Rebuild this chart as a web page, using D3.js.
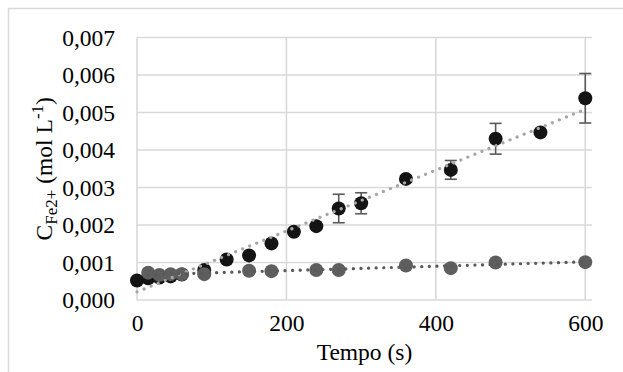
<!DOCTYPE html>
<html>
<head>
<meta charset="utf-8">
<script src="https://cdn.jsdelivr.net/npm/d3@7"></script>
</head>
<body style="margin:0; background:#fff">
<svg id="chart" width="623" height="372"></svg>
<script>
const WIDTH = 623;
const HEIGHT = 372;

// series 1 (black) : time (s), concentration (mol/L), error
const timeA = [0, 15, 30, 45, 60, 90, 120, 150, 180, 210, 240, 270, 300, 360, 420, 480, 540, 600];
const concA = [0.00052, 0.00058, 0.00060, 0.00063, 0.00068, 0.00080, 0.00108, 0.00119, 0.00151, 0.00182,
  0.00197, 0.00244, 0.00258, 0.00323, 0.00347, 0.00430, 0.00447, 0.00538];
const errA = [0, 0, 0, 0, 0, 0, 0, 0, 0, 0, 0, 0.00038, 0.00028, 0.00008, 0.00025, 0.00041, 0, 0.00066];

// series 2 (grey)
const timeB = [15, 30, 45, 60, 90, 150, 180, 240, 270, 360, 420, 480, 600];
const concB = [0.00073, 0.00067, 0.00069, 0.00069, 0.00069, 0.00078, 0.00077, 0.00080, 0.00080,
  0.00092, 0.00085, 0.00100, 0.00101];

const xTicks = [0, 200, 400, 600];
const yTicks = [0, 0.001, 0.002, 0.003, 0.004, 0.005, 0.006, 0.007];

const MARGIN = { left: 137, right: 31, top: 37.5, bottom: 72 };
const FONT = "Liberation Serif";

const svg = d3.select("#chart");

// chart border (light grey frame)
svg.append("path")
  .attr("d", `M8.5,${HEIGHT} V8.5 H${WIDTH}`)
  .attr("fill", "none")
  .attr("stroke", "#d9d9d9")
  .attr("stroke-width", 1.5);

const xScale = d3.scaleLinear()
  .domain([0, 609])
  .range([MARGIN.left, WIDTH - MARGIN.right]);
const yScale = d3.scaleLinear()
  .domain([0, 0.007])
  .range([HEIGHT - MARGIN.bottom, MARGIN.top]);

const fmt = d => d3.format(".3f")(d).replace(".", ",");

// grid
const grid = svg.append("g");
grid.selectAll(".hgrid")
  .data(yTicks)
  .enter()
  .append("line")
  .attr("x1", xScale(0))
  .attr("x2", xScale(609))
  .attr("y1", d => yScale(d))
  .attr("y2", d => yScale(d))
  .attr("stroke", "#d9d9d9")
  .attr("stroke-width", 1.6);
grid.selectAll(".vgrid")
  .data(xTicks)
  .enter()
  .append("line")
  .attr("x1", d => xScale(d))
  .attr("x2", d => xScale(d))
  .attr("y1", yScale(0))
  .attr("y2", yScale(0.007))
  .attr("stroke", "#d9d9d9")
  .attr("stroke-width", 1.6);

// axes (labels only)
const xAxis = d3.axisBottom(xScale).tickValues(xTicks).tickSize(0).tickPadding(14);
const gx = svg.append("g")
  .attr("transform", `translate(0, ${yScale(0)})`)
  .call(xAxis);
gx.select(".domain").remove();
gx.attr("font-family", null).attr("font-size", null);
gx.selectAll("text")
  .attr("font-family", FONT)
  .attr("font-size", 23.5)
  .attr("fill", "#000");

const yAxis = d3.axisLeft(yScale).tickValues(yTicks).tickFormat(fmt).tickSize(0).tickPadding(22);
const gy = svg.append("g")
  .attr("transform", `translate(${xScale(0)}, 0)`)
  .call(yAxis);
gy.select(".domain").remove();
gy.attr("font-family", null).attr("font-size", null);
gy.selectAll("text")
  .attr("font-family", FONT)
  .attr("font-size", 23.5)
  .attr("fill", "#000");

// error bars
const dataA = timeA.map((t, i) => ({ t: t, c: concA[i], e: errA[i] }));
const dataB = timeB.map((t, i) => ({ t: t, c: concB[i] }));

const eb = svg.append("g")
  .selectAll("g")
  .data(dataA.filter(d => d.e > 0))
  .enter()
  .append("g")
  .attr("stroke", "#595959")
  .attr("stroke-width", 1.6);
eb.append("line")
  .attr("x1", d => xScale(d.t)).attr("x2", d => xScale(d.t))
  .attr("y1", d => yScale(d.c - d.e)).attr("y2", d => yScale(d.c + d.e));
eb.append("line")
  .attr("x1", d => xScale(d.t) - 6).attr("x2", d => xScale(d.t) + 6)
  .attr("y1", d => yScale(d.c - d.e)).attr("y2", d => yScale(d.c - d.e));
eb.append("line")
  .attr("x1", d => xScale(d.t) - 6).attr("x2", d => xScale(d.t) + 6)
  .attr("y1", d => yScale(d.c + d.e)).attr("y2", d => yScale(d.c + d.e));

// markers
svg.append("g")
  .selectAll("circle")
  .data(dataA)
  .enter()
  .append("circle")
  .attr("cx", d => xScale(d.t))
  .attr("cy", d => yScale(d.c))
  .attr("r", 7)
  .style("fill", "#141414");

svg.append("g")
  .selectAll("circle")
  .data(dataB)
  .enter()
  .append("circle")
  .attr("cx", d => xScale(d.t))
  .attr("cy", d => yScale(d.c))
  .attr("r", 7)
  .style("fill", "#5e5e5e");

// linear trendlines (least squares)
function fit(data) {
  const mx = d3.mean(data, d => d.t);
  const my = d3.mean(data, d => d.c);
  const sxy = d3.sum(data, d => (d.t - mx) * (d.c - my));
  const sxx = d3.sum(data, d => (d.t - mx) * (d.t - mx));
  const b = sxy / sxx;
  const a = my - b * mx;
  const ext = d3.extent(data, d => d.t);
  return ext.map(t => ({ t: t, c: a + b * t }));
}

const line = d3.line().x(d => xScale(d.t)).y(d => yScale(d.c));

svg.append("path")
  .attr("d", line(fit(dataA)))
  .attr("fill", "none")
  .attr("stroke", "#a6a6a6")
  .attr("stroke-width", 3.2)
  .attr("stroke-linecap", "round")
  .attr("stroke-dasharray", "0.1 7.5");

svg.append("path")
  .attr("d", line(fit(dataB)))
  .attr("fill", "none")
  .attr("stroke", "#595959")
  .attr("stroke-width", 3.2)
  .attr("stroke-linecap", "round")
  .attr("stroke-dasharray", "0.1 7.5");

// axis titles
svg.append("text")
  .attr("x", (xScale(0) + xScale(609)) / 2)
  .attr("y", 360)
  .attr("font-family", FONT)
  .attr("font-size", 23.5)
  .attr("text-anchor", "middle")
  .text("Tempo (s)");

const yTitle = svg.append("text")
  .attr("transform", `translate(52, ${(yScale(0) + yScale(0.007)) / 2}) rotate(-90)`)
  .attr("font-family", FONT)
  .attr("font-size", 23.5)
  .attr("text-anchor", "middle");
yTitle.append("tspan").text("C");
yTitle.append("tspan").attr("dy", 5).attr("font-size", 17).text("Fe2+");
yTitle.append("tspan").attr("dy", -5).text(" (mol L");
yTitle.append("tspan").attr("dy", -9).attr("font-size", 17).text("-1");
yTitle.append("tspan").attr("dy", 9).text(")");
</script>
</body>
</html>
